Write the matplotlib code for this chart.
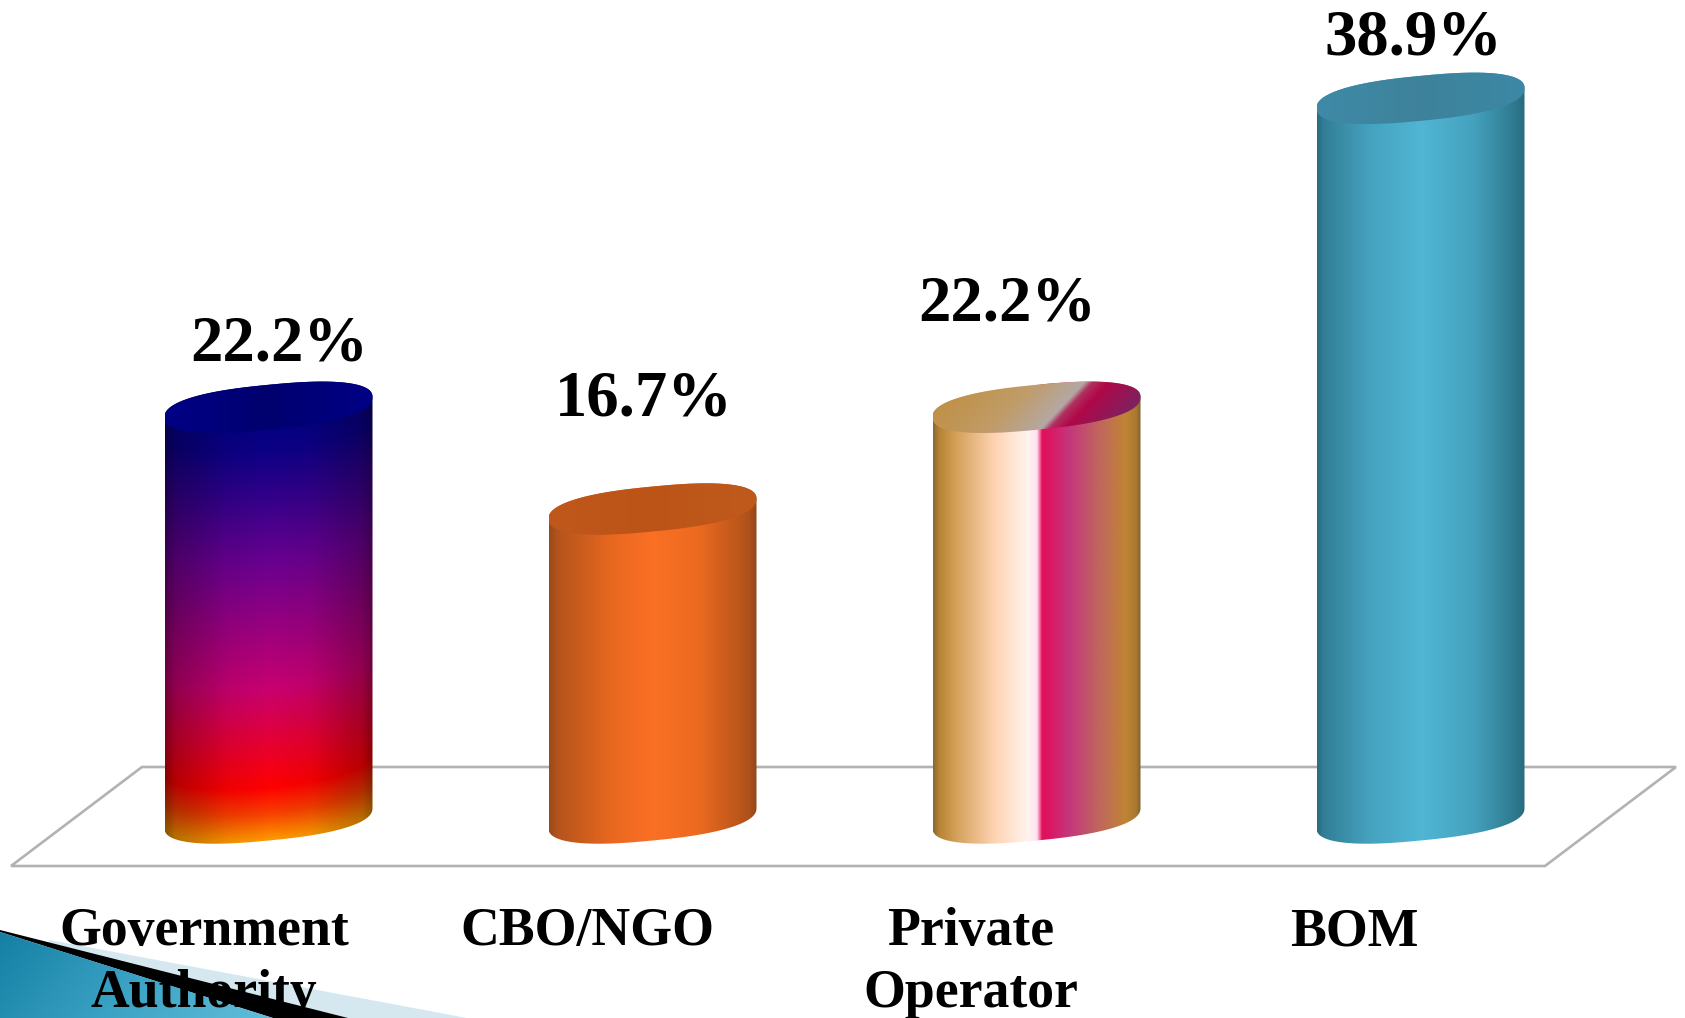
import numpy as np
import matplotlib
matplotlib.use('Agg')
from matplotlib import pyplot as plt
from matplotlib.colors import to_rgb
from matplotlib.patches import Polygon

categories = ['Government\nAuthority', 'CBO/NGO', 'Private\nOperator', 'BOM']
values = [22.2, 16.7, 22.2, 38.9]
value_labels = ['22.2%', '16.7%', '22.2%', '38.9%']

W, H = 1685, 1018
BASE_Y = 818      # pixel row of value 0
PX_PER_UNIT = 18.5
FIRST_X = 268.5
STEP_X = 384


def dx(px):
    return px / STEP_X


def dy(px):
    return px / PX_PER_UNIT


def from_px(x, y):
    return (np.asarray(x) - FIRST_X) / STEP_X, (BASE_Y - np.asarray(y)) / PX_PER_UNIT


def ramp(pos, stops):
    rgb = np.array([to_rgb(c) for c in stops[1]])
    return np.stack([np.interp(pos, stops[0], rgb[:, k]) for k in range(3)], axis=-1)


HALF_W = 104
MINOR = 22.5
TILT = 10


def rim(t):
    # slightly squared ellipse, the slide's cylinders are not pointy at the sides
    c, s = np.cos(t), np.sin(t)
    rx = np.sign(c) * np.abs(c) ** 0.8
    ry = np.sign(s) * np.abs(s) ** 0.85
    return rx, MINOR * ry + TILT * rx


side_stops = {
    1: ([0, .04, .3, .5, .72, .96, 1], ['#9A4A18', '#B4541C', '#E86820', '#FA7024', '#EC6A20', '#B0521A', '#94461A']),
    2: ([0, .03, .12, .3, .46, .5, .525, .56, .66, .8, .93, .98, 1],
        ['#8A6A38', '#B88434', '#D6A45E', '#FFD4B4', '#FFF4F0', '#FFE0F0', '#E2105A', '#DC1664', '#C4387C',
         '#C0665E', '#C08434', '#A87830', '#806030']),
    3: ([0, .03, .25, .5, .75, .95, 1], ['#2A6C80', '#327E96', '#45A2BE', '#50B6D4', '#45A2BE', '#2F7A90', '#2A6A7E']),
}
top_stops = {
    0: ([0, .5, 1], ['#000086', '#00006E', '#000086']),
    1: ([0, .5, 1], ['#C0581C', '#BC5418', '#C05A1C']),
    2: ([0, .4, .59, .62, .68, .85, 1], ['#C08C38', '#C09C68', '#B4A8A4', '#B03060', '#B00848', '#802060', '#C01858']),
    3: ([0, .5, 1], ['#3E8AA8', '#3E829A', '#3C88A6']),
}
grad_stops = ([0, .1, .36, .65, .88, .94, 1], ['#000080', '#0C0086', '#6A0090', '#C80070', '#FF0000', '#F84000', '#FF9800'])
edge_shade = ([0, .05, .3, .5, .7, .95, 1], [.55, .72, .94, 1, .95, .72, .55])

fig = plt.figure(figsize=(W / 100, H / 100), dpi=100)
ax = fig.add_axes([0, 0, 1, 1])
ax.axis('off')

# floor outline
fx, fy = from_px([11, 1545, 1676, 142], [866, 866, 767, 767])
ax.add_patch(Polygon(np.column_stack([fx, fy]), closed=True, fill=False, edgecolor='#B2B2B2', lw=1.9, zorder=1))

t = np.linspace(0, np.pi, 160)
for i, v in enumerate(values):
    rx_back, ry_back = rim(t)
    rx_front, ry_front = rim(-t)
    xs = np.concatenate([i + dx(HALF_W) * rx_front, i + dx(HALF_W) * rx_back[::-1]])
    ys = np.concatenate([dy(ry_front), v + dy(ry_back[::-1])])
    body = Polygon(np.column_stack([xs, ys]), closed=True, fc='none', ec='none', zorder=2)
    ax.add_patch(body)

    nx, ny = 260, 500
    u = np.linspace(0, 1, nx)
    y0, y1 = -dy(MINOR + TILT + 4), v + dy(MINOR + TILT + 4)
    if i == 0:
        vv = np.linspace(y1, y0, ny)[:, None]
        front_edge = dy(-MINOR * np.sqrt(np.clip(1 - (2 * u - 1) ** 2, 0, 1)) + TILT * (2 * u - 1))
        vpos = 1 - (vv - front_edge[None, :]) / (v + dy(MINOR))
        img = ramp(np.clip(vpos, 0, 1), grad_stops) * np.interp(u, edge_shade[0], edge_shade[1])[None, :, None]
    else:
        img = np.repeat(ramp(u, side_stops[i])[None, :, :], 2, axis=0)
    im = ax.imshow(img, extent=[i - dx(HALF_W), i + dx(HALF_W), y0, y1], origin='upper', aspect='auto',
                   interpolation='bilinear', zorder=2)
    im.set_clip_path(body)

    # top face
    tt = np.linspace(0, 2 * np.pi, 320)
    rx_top, ry_top = rim(tt)
    top = Polygon(np.column_stack([i + dx(HALF_W) * rx_top, v + dy(ry_top)]),
                  closed=True, fc='none', ec='none', zorder=3)
    ax.add_patch(top)
    gx, gy = np.meshgrid(np.linspace(0, 1, 200), np.linspace(1, 0, 100))
    mix = gx if i != 2 else (gx + .29 * (1 - gy)) / 1.29
    im2 = ax.imshow(ramp(mix, top_stops[i]),
                    extent=[i - dx(HALF_W), i + dx(HALF_W), v - dy(MINOR + TILT), v + dy(MINOR + TILT)],
                    origin='upper', aspect='auto', interpolation='bilinear', zorder=3)
    im2.set_clip_path(top)

# value labels, hand-placed like in the slide
lift = [46, 93, 86, 43]
shift = [11, -9, -29, -7]
for i, v in enumerate(values):
    ax.text(i + dx(shift[i]), v + dy(MINOR + lift[i] - 22), value_labels[i], ha='center', va='baseline',
            family='Liberation Serif', fontweight='bold', fontsize=46.5, color='black', zorder=6)

# corner decoration of the slide
cx, cy = from_px([50, 467, 0], [940, 1018, 1018])
ax.add_patch(Polygon(np.column_stack([cx, cy]), closed=True, fc='#D6E8EF', ec='none', zorder=4))
bx, by = from_px([0, 348, 273, 0], [930, 1018, 1018, 932])
ax.add_patch(Polygon(np.column_stack([bx, by]), closed=True, fc='black', ec='none', zorder=5))
tx, ty = from_px([0, 273, 0], [932, 1018, 1018])
wedge = Polygon(np.column_stack([tx, ty]), closed=True, fc='none', ec='none', zorder=5)
ax.add_patch(wedge)
wx, wy = np.meshgrid(np.linspace(0, 1, 120), np.linspace(0, 1, 40))
wimg = ramp(.8 * wx + .2 * wy, ([0, .5, 1], ['#1580A4', '#3AA2C4', '#62BEDA']))
x0, y_low = from_px(0, 1018)
x1, y_high = from_px(273, 932)
w_im = ax.imshow(wimg, extent=[x0, x1, y_low, y_high], origin='upper', aspect='auto',
                 interpolation='bilinear', zorder=5)
w_im.set_clip_path(wedge)

# category labels sit over the corner decoration
for i, name in enumerate(categories):
    for j, line in enumerate(name.split('\n')):
        lx, ly = from_px(204 + 383.3 * i, 945 + 62 * j)
        ax.text(lx, ly, line, ha='center', va='baseline', family='Liberation Serif', fontweight='bold',
                fontsize=38.7, color='black', zorder=6)

ax.set_xlim(from_px(0, 0)[0], from_px(W, 0)[0])
ax.set_ylim(from_px(0, H)[1], from_px(0, 0)[1])
fig.savefig('out.png', dpi=100, facecolor='white')
